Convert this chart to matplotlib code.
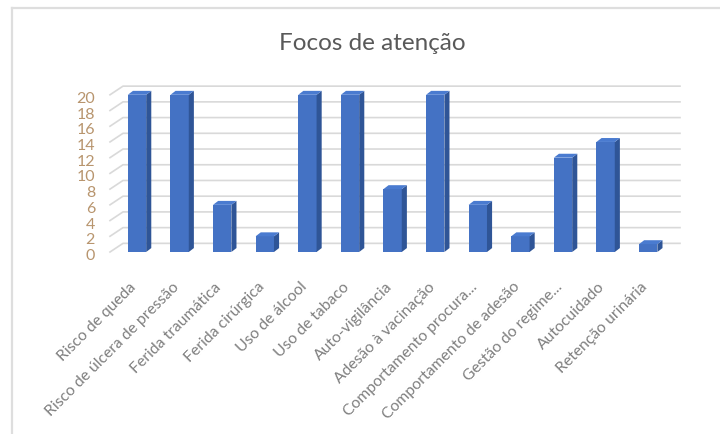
import matplotlib
matplotlib.use("Agg")
import matplotlib.pyplot as plt
from matplotlib.patches import Polygon
from matplotlib.transforms import ScaledTranslation
import numpy as np

categorias = ["Risco de queda", "Risco de úlcera de pressão", "Ferida traumática",
              "Ferida cirúrgica", "Uso de álcool", "Uso de tabaco", "Auto-vigilância",
              "Adesão à vacinação", "Comportamento procura...", "Comportamento de adesão",
              "Gestão do regime...", "Autocuidado", "Retenção urinária"]
valores = [20, 20, 6, 2, 20, 20, 8, 20, 6, 2, 12, 14, 1]
y_ticks = list(range(0, 21, 2))

plt.rcParams['font.family'] = ['Lato', 'DejaVu Sans']

fig = plt.figure(figsize=(7.2, 4.34), dpi=100)
# moldura do gráfico
fig.add_artist(plt.Line2D([12/720, 12/720], [0, 1 - 8/434], color='#dedede', lw=1.6))
fig.add_artist(plt.Line2D([12/720, 1], [1 - 8/434, 1 - 8/434], color='#dedede', lw=1.6))

ax = fig.add_axes([110/720, (434-252)/434, 570/720, 169/434])
x_left, x_right = -0.634, 12.746
ax.set_xlim(x_left, x_right)
ax.set_ylim(0, 21.5)
ax.axis('off')

# profundidade da parede de fundo e das colunas
dx, dy = 0.305, 1.1
sdx, sdy = 0.12, 0.5
w = 0.43

for v in y_ticks:
    ax.plot([x_left, x_left + dx, x_right], [v, v + dy, v + dy],
            color='#d9d9d9', lw=1.2, zorder=1, clip_on=False)
    ax.text(x_left, v, str(v), ha='right', va='center', fontsize=11.5, color='#b8956e',
            transform=ax.transData + ScaledTranslation(-15/100, -4/100, fig.dpi_scale_trans))

x = np.arange(len(valores))
ax.bar(x, valores, width=w, color='#4472c4', zorder=3)
for xi, v in zip(x, valores):
    lado = [(xi + w/2, 0), (xi + w/2 + sdx, sdy), (xi + w/2 + sdx, v + sdy), (xi + w/2, v)]
    topo = [(xi - w/2, v), (xi - w/2 + sdx, v + sdy), (xi + w/2 + sdx, v + sdy), (xi + w/2, v)]
    ax.add_patch(Polygon(lado, closed=True, color='#2f5597', zorder=3, lw=0))
    ax.add_patch(Polygon(topo, closed=True, color='#4a7bd0', zorder=3, lw=0))

for xi, nome in zip(x, categorias):
    ax.text(xi + 0.05, 0, nome, rotation=45, ha='right', va='top', fontsize=11.3,
            color='#7f7f7f', rotation_mode='default',
            transform=ax.transData + ScaledTranslation(0, -28/100, fig.dpi_scale_trans))

fig.text(372/720, 1 - 43/434, "Focos de atenção", ha='center', va='center',
         fontsize=17.5, color='#595959')

fig.savefig("out.png", dpi=100)
